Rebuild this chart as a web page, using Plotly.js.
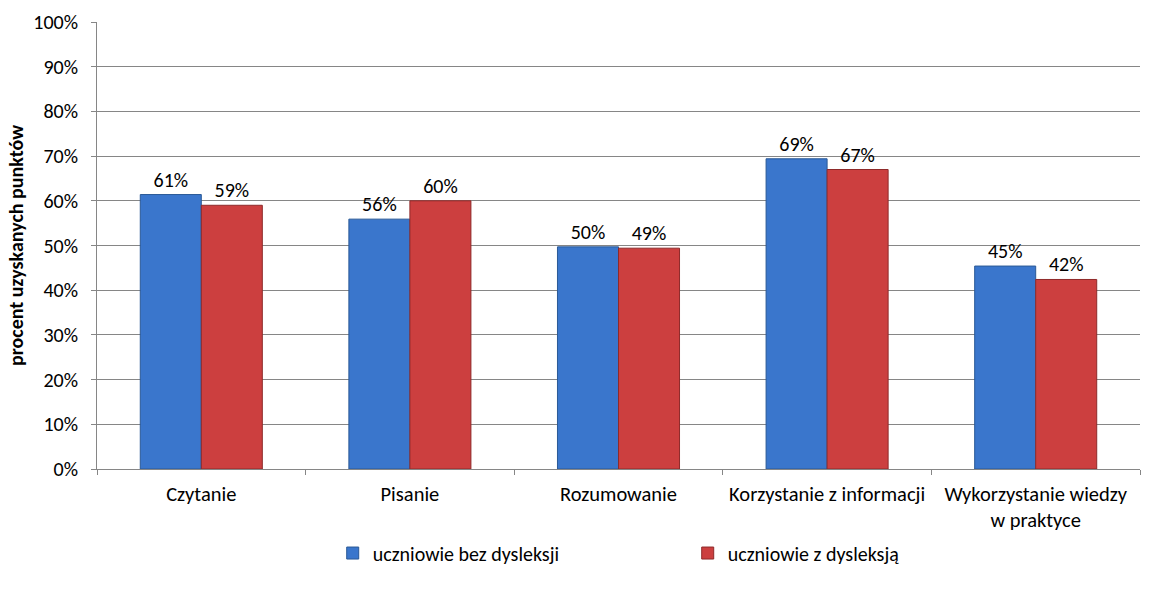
<!DOCTYPE html>
<html>
<head>
<meta charset="utf-8">
<script src="https://cdn.plot.ly/plotly-3.0.1.min.js"></script>
<style>html,body{margin:0;padding:0;background:#fff;}#chart{width:1149px;height:595px;}</style>
</head>
<body>
<div id="chart"></div>
<script>
const categories = ["Czytanie", "Pisanie", "Rozumowanie", "Korzystanie z informacji", "Wykorzystanie wiedzy<br>w praktyce"];
const seriesNames = ["uczniowie bez dysleksji", "uczniowie z dysleksją"];
const bezDysleksji = [61.4, 55.9, 49.7, 69.4, 45.4];
const zDysleksja = [59.0, 60.0, 49.4, 67.0, 42.4];
const yTickVals = [0, 10, 20, 30, 40, 50, 60, 70, 80, 90, 100];
const yTickText = ["0%", "10%", "20%", "30%", "40%", "50%", "60%", "70%", "80%", "90%", "100%"];

const FONT = "Carlito, Lato, 'Open Sans', sans-serif";

const traces = [
  {
    type: "bar", name: seriesNames[0], x: categories, y: bezDysleksji,
    marker: {color: "#3a76cc", line: {color: "#2a5996", width: 1}},
    texttemplate: "%{y:.0f}%", textposition: "outside", cliponaxis: false,
    textfont: {family: FONT, size: 20, color: "#000"}, hoverinfo: "x+y"
  },
  {
    type: "bar", name: seriesNames[1], x: categories, y: zDysleksja,
    marker: {color: "#cc3f3f", line: {color: "#8e2a2a", width: 1}},
    texttemplate: "%{y:.0f}%", textposition: "outside", cliponaxis: false,
    textfont: {family: FONT, size: 20, color: "#000"}, hoverinfo: "x+y"
  }
];

const layout = {
  width: 1149, height: 595,
  margin: {l: 97, r: 9, t: 22, b: 126},
  paper_bgcolor: "#fff", plot_bgcolor: "#fff",
  font: {family: FONT, size: 20, color: "#000"},
  barmode: "group", bargap: 0.415, bargroupgap: 0,
  showlegend: true,
  legend: {
    orientation: "h", x: 0.226, xanchor: "left", y: -0.188, yanchor: "middle",
    font: {family: FONT, size: 20, color: "#000"},
    entrywidth: 310, entrywidthmode: "pixels", itemwidth: 30
  },
  xaxis: {
    type: "category", tickson: "boundaries", ticks: "outside", ticklen: 5, tickangle: 0,
    ticklabelstandoff: 6,
    tickcolor: "#868686", showline: true, linecolor: "#868686", linewidth: 1,
    showgrid: false, automargin: false, tickfont: {family: FONT, size: 20.5, color: "#000"}
  },
  yaxis: {
    range: [0, 100], tickvals: yTickVals, ticktext: yTickText,
    ticks: "outside", ticklen: 5, tickcolor: "#868686", ticklabelstandoff: 9,
    showline: true, linecolor: "#868686", linewidth: 1,
    showgrid: true, gridcolor: "#868686", gridwidth: 1, zeroline: false, automargin: false,
    tickfont: {family: FONT, size: 20, color: "#000"},
    title: {text: "procent uzyskanych punktów", font: {family: FONT, size: 20, color: "#000", weight: "bold"}, standoff: 4}
  }
};

Plotly.newPlot("chart", traces, layout, {displayModeBar: false, staticPlot: true});
</script>
</body>
</html>
